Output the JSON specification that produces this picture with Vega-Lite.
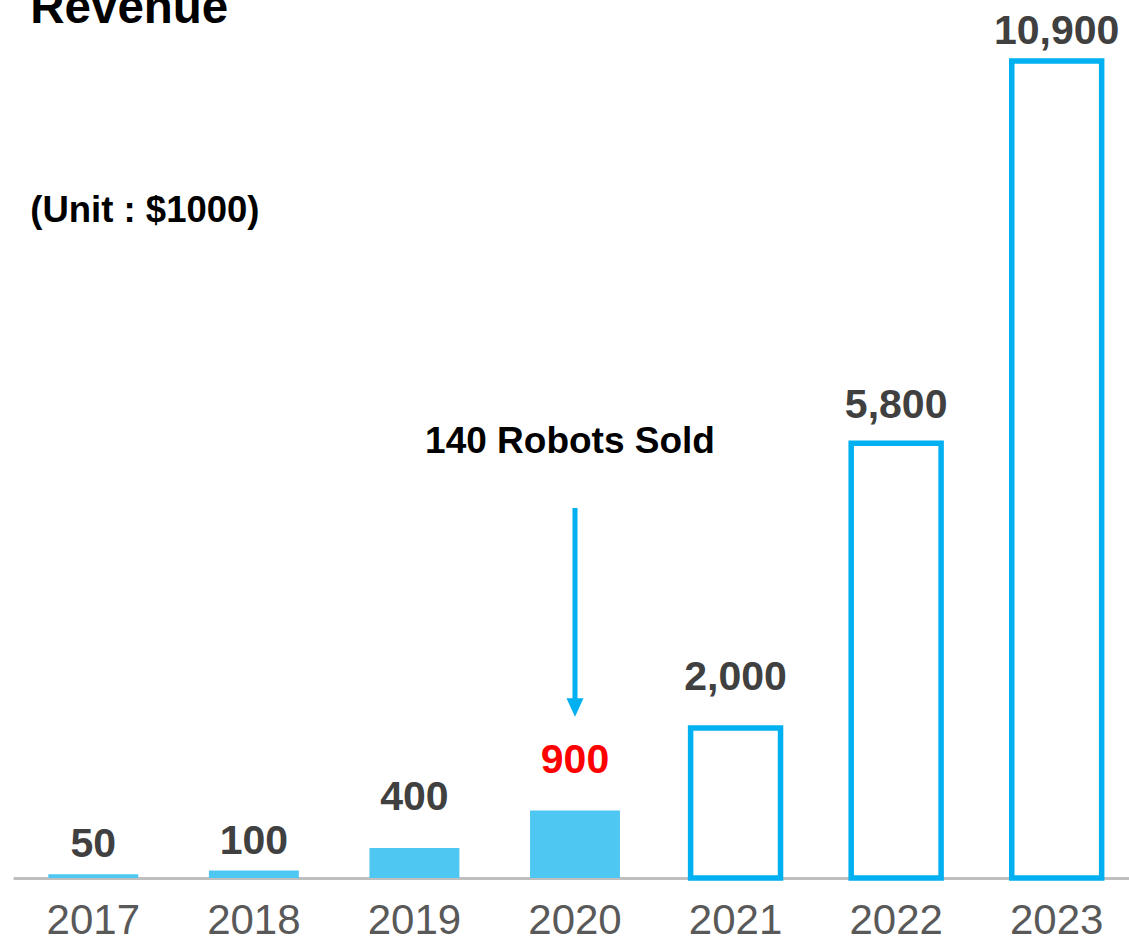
{
  "$schema": "https://vega.github.io/schema/vega-lite/v6.json",
  "width": 1124,
  "height": 817,
  "autosize": "none",
  "padding": {"left": 13, "top": 61, "right": 0, "bottom": 60},
  "background": "white",
  "config": {"view": {"stroke": null}, "font": "Liberation Sans"},
  "data": {
    "values": [
      {"year": "2017", "revenue": 50},
      {"year": "2018", "revenue": 100},
      {"year": "2019", "revenue": 400},
      {"year": "2020", "revenue": 900},
      {"year": "2021", "revenue": 2000},
      {"year": "2022", "revenue": 5800},
      {"year": "2023", "revenue": 10900}
    ]
  },
  "encoding": {
    "x": {
      "field": "year",
      "type": "ordinal",
      "scale": {"paddingInner": 0.44, "paddingOuter": 0.22},
      "axis": {
        "title": null,
        "labelAngle": 0,
        "labelFontSize": 42,
        "labelColor": "#595959",
        "labelFont": "Liberation Sans",
        "ticks": false,
        "tickSize": 0,
        "labelPadding": 22,
        "domainColor": "#BFBFBF",
        "domainWidth": 3
      }
    },
    "y": {
      "field": "revenue",
      "type": "quantitative",
      "scale": {"domain": [0, 10900], "nice": false, "zero": true},
      "axis": null
    }
  },
  "layer": [
    {
      "transform": [{"filter": "toNumber(datum.year) <= 2020"}],
      "mark": {"type": "bar", "color": "#4EC7F2"}
    },
    {
      "transform": [{"filter": "toNumber(datum.year) > 2020"}],
      "mark": {"type": "bar", "fill": "white", "stroke": "#00B0F0", "strokeWidth": 5.5}
    },
    {
      "transform": [{"filter": "datum.year == '2017' || datum.year == '2018' || datum.year == '2023'"}],
      "mark": {"type": "text", "fontSize": 41, "fontWeight": "bold", "baseline": "alphabetic", "dy": -17, "color": "#404040"},
      "encoding": {"text": {"field": "revenue", "type": "quantitative", "format": ",d"}}
    },
    {
      "transform": [{"filter": "datum.year == '2022'"}],
      "mark": {"type": "text", "fontSize": 41, "fontWeight": "bold", "baseline": "alphabetic", "dy": -25, "color": "#404040"},
      "encoding": {"text": {"field": "revenue", "type": "quantitative", "format": ",d"}}
    },
    {
      "transform": [{"filter": "datum.year == '2019' || datum.year == '2020' || datum.year == '2021'"}],
      "mark": {"type": "text", "fontSize": 41, "fontWeight": "bold", "baseline": "alphabetic", "dy": -38},
      "encoding": {
        "text": {"field": "revenue", "type": "quantitative", "format": ",d"},
        "color": {"condition": {"test": "datum.year == '2020'", "value": "#FF0000"}, "value": "#404040"}
      }
    },
    {
      "transform": [{"filter": "datum.year == '2020'"}],
      "mark": {"type": "text", "fontSize": 37, "fontWeight": "bold", "baseline": "alphabetic", "align": "center", "dx": -5, "color": "#000000", "text": "140 Robots Sold"},
      "encoding": {"x": {"datum": "2020", "type": "ordinal"}, "y": {"datum": 5670, "type": "quantitative"}}
    },
    {
      "transform": [{"filter": "datum.year == '2020'"}],
      "mark": {"type": "rule", "color": "#00B0F0", "strokeWidth": 5},
      "encoding": {
        "x": {"datum": "2020", "type": "ordinal"},
        "y": {"datum": 4936, "type": "quantitative"},
        "y2": {"datum": 2375}
      }
    },
    {
      "transform": [{"filter": "datum.year == '2020'"}],
      "mark": {"type": "point", "filled": true, "opacity": 1, "color": "#00B0F0", "size": 289, "shape": "M -1 -1.1 L 1 -1.1 L 0 1.1 Z"},
      "encoding": {"x": {"datum": "2020", "type": "ordinal"}, "y": {"datum": 2275, "type": "quantitative"}}
    },
    {
      "transform": [{"filter": "datum.year == '2017'"}],
      "mark": {"type": "text", "fontSize": 47.5, "fontWeight": "bold", "baseline": "alphabetic", "align": "left", "dx": -63, "color": "#000000", "text": "Revenue"},
      "encoding": {"x": {"datum": "2017", "type": "ordinal"}, "y": {"datum": 11407, "type": "quantitative"}}
    },
    {
      "transform": [{"filter": "datum.year == '2017'"}],
      "mark": {"type": "text", "fontSize": 36.5, "fontWeight": "bold", "baseline": "alphabetic", "align": "left", "dx": -63, "color": "#000000", "text": "(Unit : $1000)"},
      "encoding": {"x": {"datum": "2017", "type": "ordinal"}, "y": {"datum": 8752, "type": "quantitative"}}
    }
  ]
}
